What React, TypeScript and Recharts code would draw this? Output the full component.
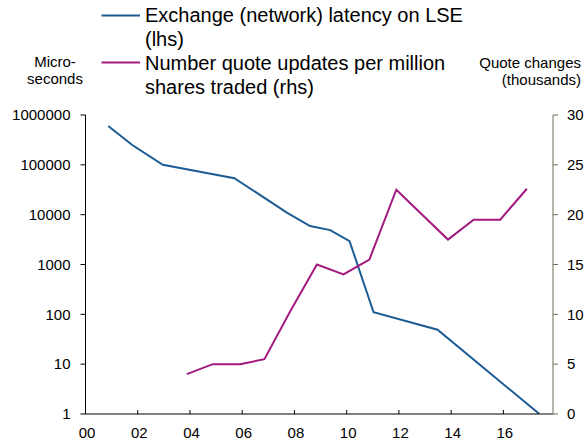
import React from "react";
import { Line, LineChart, XAxis, YAxis } from "recharts";

// Years since 2000 (fractional positions)
const latencyYears = [0.87, 1.79, 2.96, 5.7, 7.71, 8.6, 9.37, 10.11, 11.03, 13.48, 17.38];
// Exchange (network) latency on LSE, microseconds (lhs, log scale)
const latencyValues = [600000, 250000, 100000, 54000, 11000, 5900, 4900, 2950, 110, 49, 1];

const quoteYears = [3.88, 4.87, 5.92, 6.85, 7.84, 8.86, 9.88, 10.87, 11.9, 13.88, 14.86, 15.88, 16.9];
// Quote updates per million shares traded, thousands (rhs)
const quoteValues = [4, 5, 5, 5.5, 10.3, 15, 14, 15.5, 22.5, 17.5, 19.5, 19.5, 22.6];

const xTicks = [0, 2, 4, 6, 8, 10, 12, 14, 16];
const leftTicks = [1, 10, 100, 1000, 10000, 100000, 1000000];
const rightTicks = [0, 5, 10, 15, 20, 25, 30];

const latencyData = latencyYears.map((year, i) => ({ year, latency: latencyValues[i] }));
const quoteData = quoteYears.map((year, i) => ({ year, quotes: quoteValues[i] }));

const FONT = '"Liberation Sans", Arial, Helvetica, sans-serif';
const BLUE = "#1c5b94";
const PURPLE = "#a3197f";

// x-axis ticks point up into the plot, labels sit below
function XTick(props: any) {
  const { x, y, payload } = props;
  return (
    <g>
      <line x1={x} y1={y} x2={x} y2={y - 4} stroke="#000" strokeWidth={1} />
      <text x={x + 1.5} y={y + 19} dy="0.35em" textAnchor="middle" fontSize={15} fill="#000" fontFamily={FONT}>
        {String(payload.value).padStart(2, "0")}
      </text>
    </g>
  );
}

function Label({ top, left, width, align, size, children }: any) {
  return (
    <div
      style={{
        position: "absolute",
        top,
        left,
        width,
        textAlign: align,
        fontSize: size,
        lineHeight: "24px",
        fontFamily: FONT,
        color: "#000",
        whiteSpace: "nowrap",
      }}
    >
      {children}
    </div>
  );
}

export default function App() {
  return (
    <div style={{ position: "absolute", left: 0, top: 0, width: 587, height: 445, background: "#fff", fontFamily: FONT }}>
      <LineChart width={587} height={445} margin={{ top: 115, right: 0, bottom: 0, left: 0 }}>
        <XAxis
          dataKey="year"
          type="number"
          domain={[0, 17.9]}
          ticks={xTicks}
          height={31}
          axisLine={{ stroke: "#000", strokeWidth: 1 }}
          tickLine={false}
          tickSize={0}
          tickMargin={0}
          tick={<XTick />}
          allowDuplicatedCategory={false}
        />
        <YAxis
          yAxisId="lhs"
          orientation="left"
          type="number"
          scale="log"
          domain={[1, 1000000]}
          ticks={leftTicks}
          allowDataOverflow
          width={85.5}
          axisLine={{ stroke: "#000", strokeWidth: 1 }}
          tickLine={{ stroke: "#000" }}
          tickSize={5}
          tickMargin={10}
          tickFormatter={(v) => String(v)}
          tick={{ fontSize: 15, fill: "#000", fontFamily: FONT }}
        />
        <YAxis
          yAxisId="rhs"
          orientation="right"
          type="number"
          domain={[0, 30]}
          ticks={rightTicks}
          width={34}
          axisLine={{ stroke: "#706c5c", strokeWidth: 1 }}
          tickLine={{ stroke: "#706c5c" }}
          tickSize={5}
          tickMargin={9}
          tick={{ fontSize: 15, fill: "#000", fontFamily: FONT, textAnchor: "start" }}
        />
        <Line
          yAxisId="lhs"
          data={latencyData}
          dataKey="latency"
          type="linear"
          stroke={BLUE}
          strokeWidth={2}
          dot={false}
          isAnimationActive={false}
        />
        <Line
          yAxisId="rhs"
          data={quoteData}
          dataKey="quotes"
          type="linear"
          stroke={PURPLE}
          strokeWidth={2}
          dot={false}
          isAnimationActive={false}
        />
      </LineChart>

      {/* legend */}
      <svg style={{ position: "absolute", left: 0, top: 0 }} width={587} height={100}>
        <line x1={101.5} y1={15.5} x2={140} y2={15.5} stroke={BLUE} strokeWidth={2} />
        <line x1={101.5} y1={62.5} x2={140} y2={62.5} stroke={PURPLE} strokeWidth={2} />
      </svg>
      <Label top={3} left={145} size={20}>Exchange (network) latency on LSE</Label>
      <Label top={27} left={145} size={20}>(lhs)</Label>
      <Label top={51} left={145} size={20}>Number quote updates per million</Label>
      <Label top={75} left={145} size={20}>shares traded (rhs)</Label>

      {/* axis titles */}
      <Label top={50} left={15} width={80} align="center" size={15}>Micro-</Label>
      <Label top={67} left={15} width={80} align="center" size={15}>seconds</Label>
      <Label top={51} left={431} width={150} align="right" size={15}>Quote changes</Label>
      <Label top={68} left={431} width={150} align="right" size={15}>(thousands)</Label>
    </div>
  );
}
